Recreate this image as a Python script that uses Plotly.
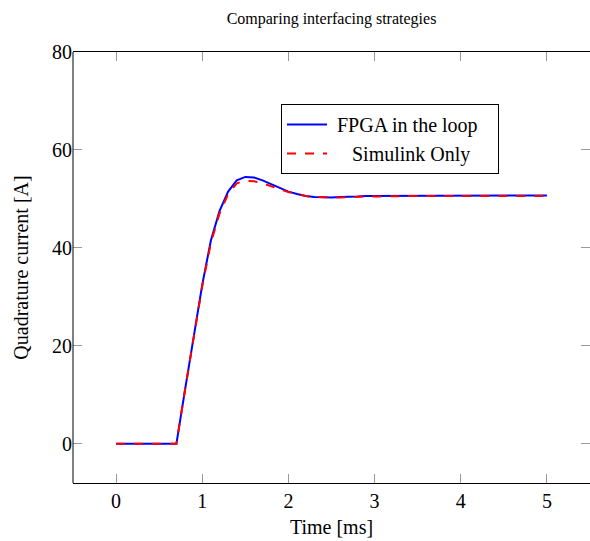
import plotly.graph_objects as go

time_ms = [0.0, 0.1, 0.2, 0.3, 0.4, 0.5, 0.6, 0.7, 0.8, 0.9, 1.0, 1.1, 1.2, 1.3, 1.4, 1.5,
           1.6, 1.7, 1.8, 1.9, 2.0, 2.1, 2.2, 2.3, 2.4, 2.5, 2.6, 2.7, 2.8, 2.9, 3.0,
           3.2, 3.4, 3.6, 3.8, 4.0, 4.2, 4.4, 4.6, 4.8, 5.0]
fpga = [0, 0, 0, 0, 0, 0, 0, 0, 11, 22, 32.5, 41.5, 47.5, 51.5, 53.8, 54.5,
        54.4, 53.8, 53.0, 52.2, 51.5, 51.0, 50.6, 50.4, 50.3, 50.3, 50.4, 50.4, 50.5, 50.6, 50.6,
        50.7, 50.7, 50.7, 50.7, 50.7, 50.7, 50.7, 50.7, 50.7, 50.7]
simulink = [0, 0, 0, 0, 0, 0, 0, 0, 11, 22, 32.2, 41.0, 47.0, 51.0, 53.2, 53.7,
            53.6, 53.2, 52.6, 52.0, 51.4, 51.0, 50.6, 50.4, 50.3, 50.3, 50.3, 50.4, 50.4, 50.5, 50.5,
            50.6, 50.6, 50.6, 50.6, 50.6, 50.6, 50.6, 50.6, 50.6, 50.6]

x_ticks = [0, 1, 2, 3, 4, 5]
y_ticks = [0, 20, 40, 60, 80]

NBSP = "\u00a0"
FONT = "Liberation Serif"
W = 590
PLOT_W = W - 73

fig = go.Figure()
fig.add_trace(go.Scatter(x=time_ms, y=fpga, mode="lines", name=NBSP + "FPGA in the loop" + NBSP * 3,
                         line=dict(color="#0000ff", width=2)))
fig.add_trace(go.Scatter(x=time_ms, y=simulink, mode="lines", name=NBSP * 4 + "Simulink Only",
                         line=dict(color="#ff0000", width=2, dash="dash")))

tick_common = dict(showgrid=False, zeroline=False, ticks="inside", ticklen=9, tickcolor="#999999",
                   mirror="allticks", tickfont=dict(family=FONT, size=20, color="black"))

fig.update_layout(
    width=W, height=541,
    margin=dict(l=73, r=0, t=52, b=58),
    paper_bgcolor="white", plot_bgcolor="white",
    font=dict(family=FONT, color="black"),
    title=dict(text="Comparing interfacing strategies", x=(73 + 590) / 2 / W, xanchor="center",
               y=1 - 18 / 541, yanchor="middle", font=dict(family=FONT, size=16, color="black")),
    xaxis=dict(range=[-0.5, -0.5 + PLOT_W / 86.17], tickvals=x_ticks, showline=True,
               linecolor="black", linewidth=1,
               title=dict(text="Time [ms]", standoff=8, font=dict(family=FONT, size=20)), **tick_common),
    yaxis=dict(range=[-8, 80], tickvals=y_ticks, showline=False,
               title=dict(text="Quadrature current [A]", standoff=18, font=dict(family=FONT, size=20)),
               **tick_common),
    legend=dict(x=(281 - 73) / PLOT_W, y=(483 - 104) / 431, xanchor="left", yanchor="top",
                bordercolor="black", borderwidth=1, bgcolor="white", itemwidth=40,
                font=dict(family=FONT, size=20, color="black")),
    showlegend=True,
)
# left axis line only (right side of the box is cut off in the reference)
fig.add_shape(type="line", xref="paper", yref="paper", x0=0, x1=0, y0=0, y1=1,
              line=dict(color="black", width=1))

fig.write_html("out.html", config={"displayModeBar": False},
               post_script="document.body.style.margin='0px';document.body.style.overflow='hidden';")
